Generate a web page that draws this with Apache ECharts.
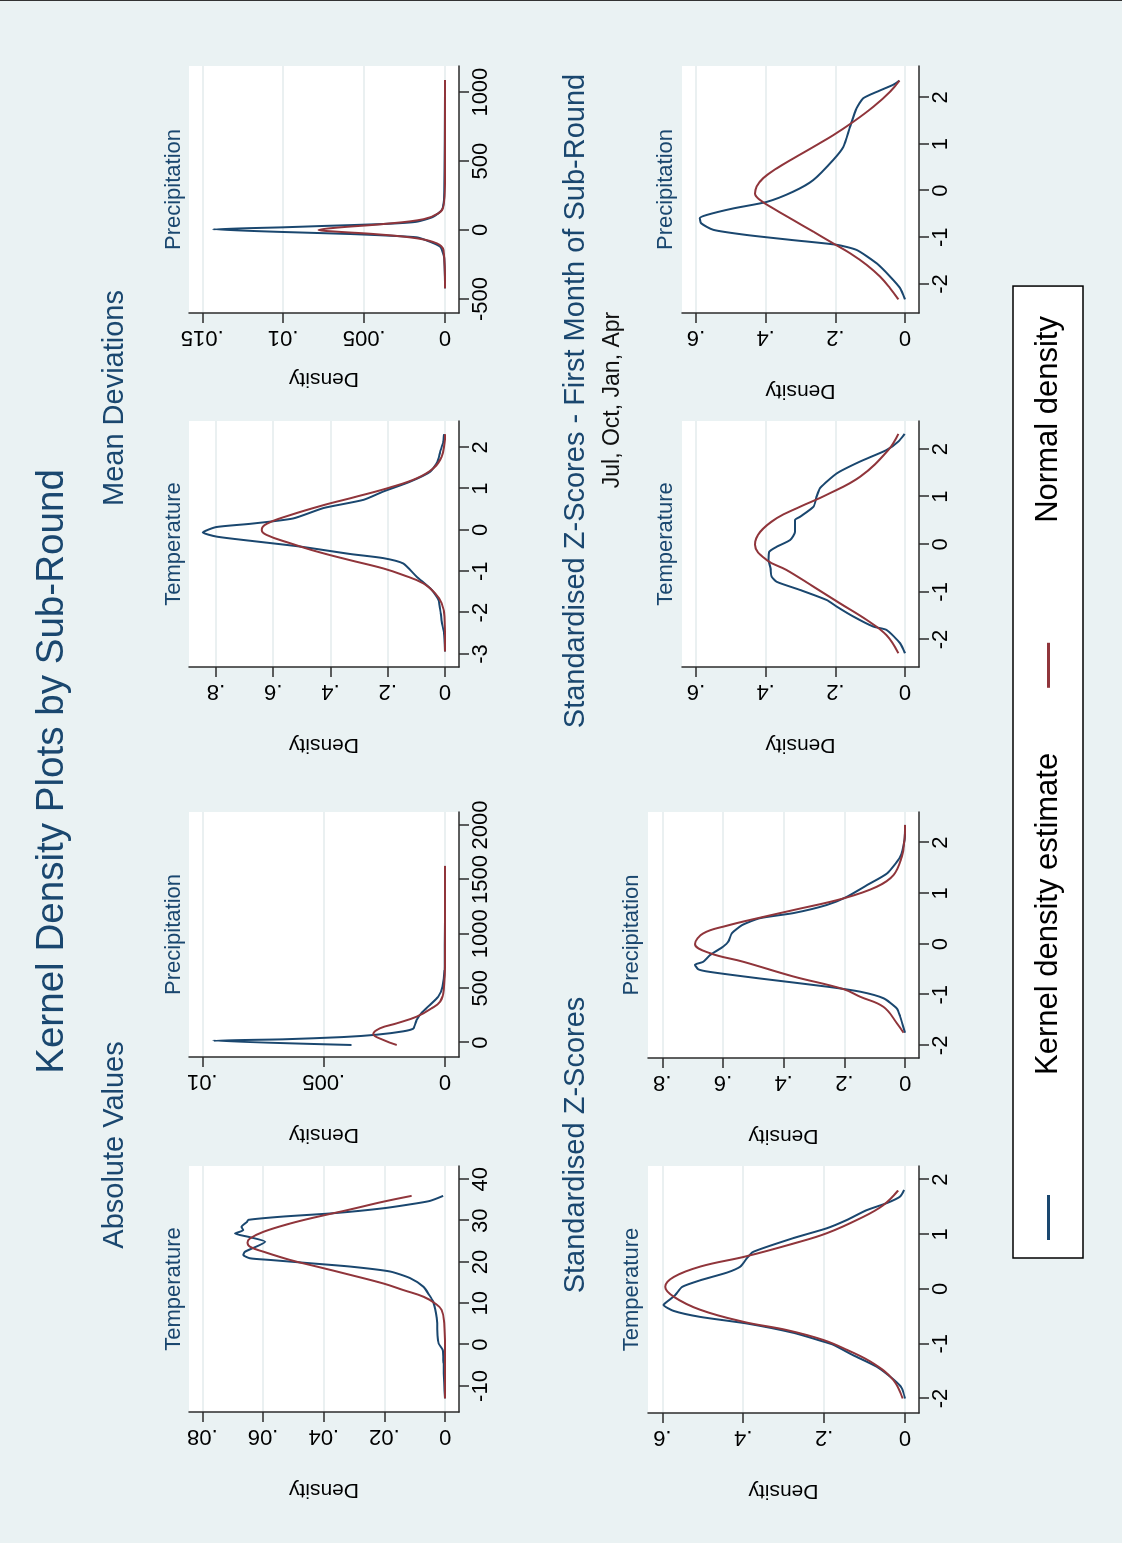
<!DOCTYPE html>
<html>
<head>
<meta charset="utf-8">
<title>Kernel Density Plots by Sub-Round</title>
<script src="https://cdn.jsdelivr.net/npm/echarts@6/dist/echarts.min.js"></script>
<style>
  html, body { margin: 0; padding: 0; overflow: hidden; background: #fff; width: 1122px; height: 1543px; }
  /* the graph is laid out landscape, then turned a quarter turn like the exported page */
  #turn { position: absolute; left: 0; top: 0; width: 1543px; height: 1122px;
          transform-origin: 0 0; transform: translate(0, 1543px) rotate(-90deg); }
  #chart { width: 1542px; height: 1122px; border-right: 1px solid #333; }
</style>
</head>
<body>
<div id="turn"><div id="chart"></div></div>
<script>
var FONT = '"Liberation Sans", Arial, Helvetica, sans-serif';
var NAVY = '#1a476f';
var MAROON = '#90353b';
var GRIDLINE = '#e3ebed';

/* ---------------------------- tick values ---------------------------- */
var absTempTicks = [-10, 0, 10, 20, 30, 40];
var absPrecTicks = [0, 500, 1000, 1500, 2000];
var mdTempTicks = [-3, -2, -1, 0, 1, 2];
var mdPrecTicks = [-500, 0, 500, 1000];
var zTicks = [-2, -1, 0, 1, 2];

var densAbsTemp = [0, 0.02, 0.04, 0.06, 0.08];
var densAbsPrec = [0, 0.005, 0.01];
var densMdTemp = [0, 0.2, 0.4, 0.6, 0.8];
var densMdPrec = [0, 0.005, 0.01, 0.015];
var densZTemp = [0, 0.2, 0.4, 0.6];
var densZPrec = [0, 0.2, 0.4, 0.6, 0.8];
var densZfTemp = [0, 0.2, 0.4, 0.6];
var densZfPrec = [0, 0.2, 0.4, 0.6];

/* ------------------------- curves [value, density] ------------------------- */
var absTempKde = [[-12.96,0],[-9.3,0.0003],[-4.5,0.00055],[-1.3,0.00077],[0.3,0.0021],[2.3,0.0025],[5.2,0.0026],[7.6,0.003],[10.4,0.0039],[12.0,0.0052],[14.0,0.0071],[16.1,0.0115],[17.7,0.0181],[18.9,0.0313],[19.7,0.0445],[20.5,0.0577],[20.9,0.0643],[21.7,0.0665],[22.5,0.0659],[24.9,0.0593],[26.0,0.0643],[26.9,0.0692],[27.7,0.0665],[28.5,0.0671],[29.7,0.0653],[30.2,0.0648],[31.0,0.0533],[31.8,0.0368],[33.0,0.0203],[34.2,0.0093],[34.8,0.0049],[36.0,0.0006]];
var absTempNorm = [[-13,0],[-1.3,0.00003],[5.2,0.0003],[8.4,0.0011],[10.0,0.0033],[11.6,0.0071],[13.2,0.0137],[14.8,0.0203],[16.9,0.0313],[18.9,0.0423],[20.5,0.0511],[22.5,0.0599],[23.7,0.0643],[24.7,0.0651],[25.7,0.0643],[27.3,0.0599],[29.3,0.0511],[30.9,0.0423],[32.7,0.0313],[34.6,0.0203],[36.0,0.011]];

var absPrecKde = [[-21,0.00385],[18.4,0.00955],[31,0.00667],[52,0.00419],[73.5,0.00282],[104.5,0.00172],[129,0.00131],[163,0.00124],[209,0.00117],[276,0.00096],[347,0.00062],[423,0.00028],[515,0.0001],[668,0.00002],[1624,0]];
var absPrecNorm = [[-21,0.00199],[25,0.00254],[80,0.00296],[132,0.00268],[178,0.00199],[239,0.00117],[316,0.00055],[377,0.0002],[484,0.00005],[790,0],[1624,0]];

var mdTempKde = [[-2.94,0],[-2.5,0.0035],[-2.22,0.0116],[-2.02,0.015],[-1.69,0.023],[-1.45,0.046],[-1.13,0.099],[-0.81,0.146],[-0.68,0.216],[-0.58,0.332],[-0.4,0.507],[-0.26,0.681],[-0.16,0.798],[-0.06,0.846],[0.07,0.8],[0.15,0.68],[0.28,0.53],[0.53,0.425],[0.73,0.285],[0.93,0.216],[1.17,0.122],[1.41,0.052],[1.65,0.027],[1.89,0.017],[2.14,0.006],[2.32,0.0035]];
var mdTempNorm = [[-2.94,0],[-2.1,0.002],[-1.77,0.012],[-1.53,0.035],[-1.29,0.076],[-1.09,0.146],[-0.93,0.216],[-0.73,0.332],[-0.52,0.448],[-0.32,0.541],[-0.12,0.623],[0.0,0.64],[0.15,0.623],[0.36,0.541],[0.6,0.425],[0.81,0.308],[1.03,0.192],[1.25,0.099],[1.49,0.041],[1.77,0.012],[2.1,0.002],[2.32,0]];

var mdPrecKde = [[-423,0],[-194,0.00006],[-121,0.0003],[-85,0.00093],[-53,0.00175],[-29,0.00586],[-14.5,0.00998],[5,0.01434],[19.6,0.00998],[29,0.00761],[43.5,0.00381],[60,0.00175],[96.5,0.00072],[145,0.0002],[218,0.00006],[1088,0]];
var mdPrecNorm = [[-423,0],[-145,0.0001],[-97,0.0005],[-60,0.00175],[-31,0.0042],[-12,0.00669],[0,0.00782],[17,0.00669],[43.5,0.00381],[78,0.00134],[121,0.00041],[169,0.0001],[339,0],[1088,0]];

var zTempKde = [[-2.0,0],[-1.81,0.008],[-1.65,0.029],[-1.42,0.07],[-1.21,0.128],[-1.02,0.177],[-0.96,0.202],[-0.8,0.276],[-0.63,0.391],[-0.51,0.506],[-0.4,0.572],[-0.29,0.597],[-0.23,0.588],[-0.11,0.568],[0.04,0.551],[0.16,0.506],[0.3,0.44],[0.41,0.407],[0.56,0.391],[0.68,0.375],[0.93,0.276],[1.11,0.193],[1.26,0.144],[1.44,0.095],[1.57,0.045],[1.69,0.012],[1.81,0.002]];
var zTempNorm = [[-2.0,0.006],[-1.66,0.029],[-1.36,0.078],[-1.11,0.144],[-0.93,0.202],[-0.75,0.292],[-0.6,0.399],[-0.38,0.506],[-0.14,0.572],[0.04,0.593],[0.22,0.572],[0.41,0.506],[0.6,0.391],[0.83,0.276],[1.02,0.193],[1.29,0.111],[1.53,0.054],[1.8,0.017]];

var zPrecKde = [[-1.75,0],[-1.43,0.016],[-1.27,0.027],[-1.07,0.071],[-0.94,0.148],[-0.84,0.258],[-0.68,0.478],[-0.55,0.643],[-0.5,0.681],[-0.41,0.692],[-0.35,0.665],[-0.22,0.643],[-0.05,0.599],[0.05,0.582],[0.21,0.571],[0.37,0.538],[0.51,0.478],[0.61,0.368],[0.77,0.258],[0.93,0.192],[1.16,0.126],[1.39,0.06],[1.72,0.016],[2.05,0.002],[2.35,0]];
var zPrecNorm = [[-1.75,0.005],[-1.56,0.027],[-1.24,0.071],[-1.04,0.148],[-0.89,0.203],[-0.64,0.368],[-0.35,0.533],[-0.18,0.643],[0.0,0.692],[0.21,0.665],[0.36,0.588],[0.52,0.478],[0.67,0.368],[0.9,0.203],[1.13,0.093],[1.36,0.038],[1.72,0.011],[2.05,0.002],[2.35,0]];

var zfTempKde = [[-2.29,0],[-2.08,0.014],[-1.8,0.053],[-1.73,0.091],[-1.52,0.148],[-1.31,0.196],[-1.17,0.225],[-0.96,0.301],[-0.79,0.368],[-0.68,0.383],[-0.5,0.386],[-0.33,0.392],[-0.16,0.39],[-0.05,0.368],[0.09,0.33],[0.26,0.316],[0.51,0.316],[0.58,0.301],[0.79,0.263],[1.0,0.254],[1.18,0.244],[1.49,0.196],[1.74,0.129],[1.98,0.053],[2.16,0.019],[2.32,0.001]];
var zfTempNorm = [[-2.29,0.019],[-1.91,0.053],[-1.59,0.11],[-1.24,0.187],[-0.89,0.263],[-0.54,0.34],[-0.33,0.397],[-0.01,0.431],[0.26,0.416],[0.55,0.368],[0.79,0.301],[1.04,0.225],[1.42,0.129],[1.98,0.048],[2.32,0.019]];

var zfPrecKde = [[-2.33,0],[-2.09,0.014],[-1.84,0.043],[-1.56,0.081],[-1.27,0.139],[-1.16,0.196],[-1.06,0.321],[-0.95,0.454],[-0.84,0.55],[-0.7,0.585],[-0.59,0.589],[-0.52,0.569],[-0.38,0.493],[-0.24,0.397],[-0.02,0.321],[0.23,0.263],[0.66,0.206],[0.94,0.177],[1.37,0.158],[1.77,0.139],[1.98,0.12],[2.12,0.081],[2.27,0.034],[2.36,0.016]];
var zfPrecNorm = [[-2.33,0.019],[-2.09,0.043],[-1.84,0.072],[-1.59,0.11],[-1.34,0.158],[-1.13,0.206],[-0.88,0.263],[-0.63,0.321],[-0.38,0.378],[-0.2,0.416],[-0.06,0.431],[0.09,0.426],[0.27,0.407],[0.48,0.368],[0.69,0.321],[0.94,0.263],[1.19,0.206],[1.48,0.148],[1.8,0.091],[2.12,0.043],[2.36,0.016]];

/* ------------------- panel layout (landscape pixels) ------------------- */
// box: [left, top, width, height] of the white plot region, axis extents include stata's plot margin
var panels = [
  { sub: 'Temperature',   kde: absTempKde, norm: absTempNorm, xTicks: absTempTicks, yTicks: densAbsTemp,
    x: [-16.28, 43.22], y: [-0.0046, 0.0844], box: [131, 189, 246, 270], subAt: [254, 174], gap: 67 },
  { sub: 'Precipitation', kde: absPrecKde, norm: absPrecNorm, xTicks: absPrecTicks, yTicks: densAbsPrec,
    x: [-131.4, 2119.4], y: [-0.000577, 0.010548], box: [486, 189, 245, 270], subAt: [608.5, 174], gap: 67 },
  { sub: 'Temperature',   kde: mdTempKde, norm: mdTempNorm, xTicks: mdTempTicks, yTicks: densMdTemp,
    x: [-3.316, 2.638], y: [-0.0489, 0.8943], box: [876, 189, 246, 270], subAt: [999, 174], gap: 67 },
  { sub: 'Precipitation', kde: mdPrecKde, norm: mdPrecNorm, xTicks: mdPrecTicks, yTicks: densMdPrec,
    x: [-602, 1189.5], y: [-0.000865, 0.01582], box: [1230, 189, 247, 270], subAt: [1353.5, 174], gap: 55 },
  { sub: 'Temperature',   kde: zTempKde, norm: zTempNorm, xTicks: zTicks, yTicks: densZTemp,
    x: [-2.265, 2.247], y: [-0.0346, 0.6354], box: [130, 648, 247, 271], subAt: [253.5, 632], gap: 67 },
  { sub: 'Precipitation', kde: zPrecKde, norm: zPrecNorm, xTicks: zTicks, yTicks: densZPrec,
    x: [-2.249, 2.605], y: [-0.0461, 0.8471], box: [485, 648, 246, 271], subAt: [608, 632], gap: 67 },
  { sub: 'Temperature',   kde: zfTempKde, norm: zfTempNorm, xTicks: zTicks, yTicks: densZfTemp,
    x: [-2.579, 2.591], y: [-0.0402, 0.6403], box: [876, 682, 246, 237], subAt: [999, 666], gap: 67 },
  { sub: 'Precipitation', kde: zfPrecKde, norm: zfPrecNorm, xTicks: zTicks, yTicks: densZfPrec,
    x: [-2.622, 2.673], y: [-0.0402, 0.6403], box: [1230, 682, 247, 237], subAt: [1353.5, 666], gap: 67 }
];

// headings: [text, centre x, centre y, size, colour]
var headings = [
  ['Kernel Density Plots by Sub-Round', 771.5, 52, 38.6, NAVY],
  ['Absolute Values', 398, 115, 29, NAVY],
  ['Mean Deviations', 1145, 115, 29, NAVY],
  ['Standardised Z-Scores', 398, 576, 29, NAVY],
  ['Standardised Z-Scores - First Month of Sub-Round', 1142, 576, 29, NAVY],
  ['Jul, Oct, Jan, Apr', 1143, 613, 23, '#111']
];

function densLabel(v) {
  if (v === 0) return '0';
  return String(parseFloat(v.toPrecision(6))).replace(/^0\./, '.');
}

function plainLabel(v) {
  return String(parseFloat(v.toPrecision(6)));
}

function centredText(text, cx, cy, size, color) {
  return {
    text: text, left: cx, top: cy, padding: 0,
    textAlign: 'center', textVerticalAlign: 'middle',
    textStyle: { fontFamily: FONT, fontSize: size, fontWeight: 'normal', color: color }
  };
}

var titles = headings.map(function (h) { return centredText(h[0], h[1], h[2], h[3], h[4]); });
var grids = [], xAxes = [], yAxes = [], series = [];
var axisLine = { show: true, onZero: false, lineStyle: { color: '#2b2b2b', width: 1.5 } };

panels.forEach(function (p, i) {
  grids.push({
    left: p.box[0], top: p.box[1], width: p.box[2], height: p.box[3],
    show: true, backgroundColor: '#fff', borderWidth: 0, outerBoundsMode: 'none'
  });
  xAxes.push({
    gridIndex: i, type: 'value', min: p.x[0], max: p.x[1],
    axisLine: axisLine,
    axisTick: { show: true, length: 10, customValues: p.xTicks, lineStyle: { color: '#2b2b2b', width: 1.5 } },
    axisLabel: { customValues: p.xTicks, margin: 11, fontSize: 22, color: '#000', fontFamily: FONT,
                 formatter: plainLabel, hideOverlap: false },
    splitLine: { show: false }
  });
  yAxes.push({
    gridIndex: i, type: 'value', min: p.y[0], max: p.y[1],
    name: 'Density', nameLocation: 'middle', nameGap: p.gap,
    nameTextStyle: { fontSize: 21, color: '#000', fontFamily: FONT },
    axisLine: axisLine,
    axisTick: { show: true, length: 10, customValues: p.yTicks, lineStyle: { color: '#2b2b2b', width: 1.5 } },
    axisLabel: { customValues: p.yTicks, rotate: 90, margin: 13, fontSize: 22, color: '#000',
                 fontFamily: FONT, formatter: densLabel, hideOverlap: false },
    splitLine: { show: true, lineStyle: { color: GRIDLINE, width: 1.5 } }
  });
  series.push({
    type: 'line', name: 'Kernel density estimate', xAxisIndex: i, yAxisIndex: i,
    data: p.kde, showSymbol: false, symbol: 'none', smooth: 0.2,
    itemStyle: { color: NAVY }, lineStyle: { color: NAVY, width: 2 }
  });
  series.push({
    type: 'line', name: 'Normal density', xAxisIndex: i, yAxisIndex: i,
    data: p.norm, showSymbol: false, symbol: 'none', smooth: 0.4,
    itemStyle: { color: MAROON }, lineStyle: { color: MAROON, width: 2 }
  });
  titles.push(centredText(p.sub, p.subAt[0], p.subAt[1], 22, NAVY));
});

var chart = echarts.init(document.getElementById('chart'));
chart.setOption({
  backgroundColor: '#eaf2f3',
  animation: false,
  title: titles,
  grid: grids,
  xAxis: xAxes,
  yAxis: yAxes,
  series: series,
  legend: {
    data: ['Kernel density estimate', 'Normal density'],
    left: 285, top: 1013,
    icon: 'rect', itemWidth: 45, itemHeight: 3, itemGap: 65,
    padding: [20, 30, 19, 18],
    backgroundColor: '#fff', borderColor: '#000', borderWidth: 1.5,
    selectedMode: false,
    textStyle: { fontSize: 31, color: '#000', fontFamily: FONT, padding: [0, 0, 0, 115] }
  }
});
</script>
</body>
</html>
